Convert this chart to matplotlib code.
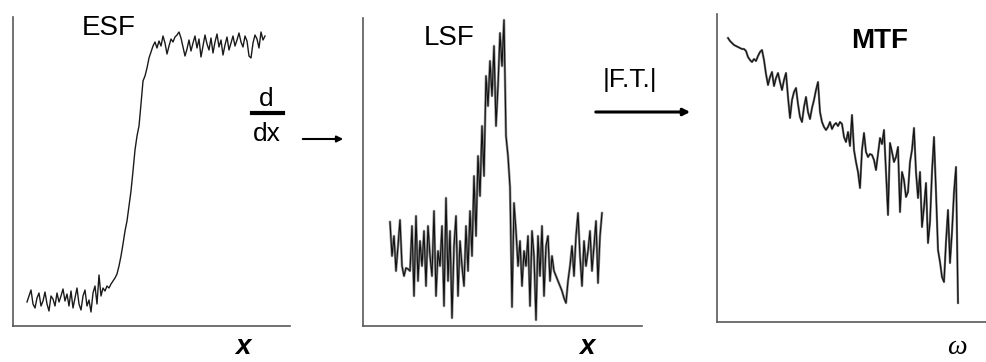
import numpy as np
import matplotlib
matplotlib.use("Agg")
import matplotlib.pyplot as plt

plt.rcParams['font.family'] = ['Liberation Sans', 'DejaVu Sans']

# ESF: edge profile, height above the axis (sample every 2 px)
esf = [24, 30, 36, 22, 18, 28, 33, 20, 25, 34, 22, 15, 30, 27, 20, 33, 24, 30, 37, 25,
       32, 20, 35, 18, 28, 38, 22, 16, 30, 36, 20, 26, 14, 33, 40, 22, 51, 30, 38, 35,
       40, 38, 42, 45, 48, 52,
       60, 70, 82, 95, 105, 120, 135, 155, 176, 190, 200, 222, 245, 250, 258, 268, 274, 280, 284,
       278, 285, 280, 290, 283, 272, 280, 287, 284, 289, 291, 294, 288, 279, 270, 277, 286, 275,
       283, 290, 278, 287, 269, 280, 291, 282, 276, 288, 273, 284, 292, 279, 286, 271, 281, 289,
       276, 283, 290, 280, 286, 293, 284, 279, 290, 285, 270, 268, 283, 291, 287, 278, 294, 286, 290]

# LSF: derivative of the edge, noisy
lsf = [104, 70, 90, 55, 80, 106, 60, 50, 58, 57, 55, 100, 30, 110, 45, 85, 60, 95, 40, 100,
       70, 50, 115, 30, 75, 60, 100, 20, 128, 45, 95, 8, 80, 110, 30, 85, 60, 40, 100, 55,
       115, 70, 150, 90, 170, 130, 200, 150, 250, 220, 265, 230, 280, 200, 240, 293, 260, 306, 190, 170,
       139, 19, 123, 95, 60, 85, 40, 75, 60, 90, 20, 95, 70, 6, 90, 50, 100, 30, 80, 90,
       45, 70, 55, 50, 45, 40, 35, 28, 23, 45, 60, 80, 50, 90, 113, 70, 40, 85, 60, 75,
       95, 55, 80, 105, 43, 90, 113]

# MTF: modulus of the Fourier transform
mtf = [284, 281, 279, 277, 276, 275, 274, 273, 273, 271, 265, 262, 260, 263, 261, 266, 270, 272, 262, 248,
       237, 245, 250, 236, 244, 249, 240, 232, 242, 249, 225, 204, 222, 230, 234, 218, 205, 200, 215, 225,
       210, 203, 214, 222, 232, 240, 210, 200, 195, 192, 195, 200, 193, 197, 199, 196, 200, 198, 185, 180,
       190, 176, 207, 172, 160, 150, 134, 172, 189, 170, 165, 168, 167, 162, 152, 168, 184, 178, 192, 150,
       107, 179, 170, 160, 165, 175, 110, 150, 142, 125, 130, 160, 172, 194, 150, 124, 150, 95, 115, 139,
       79, 100, 150, 185, 130, 72, 60, 45, 40, 80, 112, 59, 90, 130, 155, 19]

W, H = 987, 362
fig = plt.figure(figsize=(W / 100, H / 100), dpi=100)


def panel(left, bottom, right, top):
    ax = fig.add_axes([left / W, 1 - bottom / H, (right - left) / W, (bottom - top) / H])
    for s in ['top', 'right']:
        ax.spines[s].set_visible(False)
    for s in ['left', 'bottom']:
        ax.spines[s].set_color('0.35')
        ax.spines[s].set_linewidth(1.2)
    ax.set_xticks([])
    ax.set_yticks([])
    return ax


ax1 = panel(13, 326, 290, 17)
ax1.plot(np.arange(len(esf)), esf, color='#1a1a1a', lw=1.0)
ax1.set_xlim(-7, 131.5)
ax1.set_ylim(0, 309)

ax2 = panel(363, 326, 642, 18)
ax2.plot(np.arange(len(lsf)), lsf, color='0.55', lw=1.8)
ax2.plot(np.arange(len(lsf)), lsf, color='#111111', lw=0.8)
ax2.set_xlim(-13.5, 126)
ax2.set_ylim(0, 308)

ax3 = panel(717, 322, 987, 14)
ax3.plot(np.arange(len(mtf)), mtf, color='0.45', lw=1.6)
ax3.plot(np.arange(len(mtf)), mtf, color='#111111', lw=0.8)
ax3.set_xlim(-5.5, 129.5)
ax3.set_ylim(0, 308)


def txt(x, y, s, **kw):
    fig.text(x / W, 1 - y / H, s, ha='center', va='center', **kw)


txt(109, 28, 'ESF', fontsize=20)
txt(449, 38, 'LSF', fontsize=20)
txt(880, 41, 'MTF', fontsize=20, fontweight='bold')
txt(630, 80, '|F.T.|', fontsize=19)
txt(266, 99, 'd', fontsize=19)
txt(267, 134, 'dx', fontsize=19)
fig.add_artist(plt.Line2D([252 / W, 283 / W], [1 - 113 / H, 1 - 113 / H], color='black', lw=3))

fig.add_artist(matplotlib.patches.FancyArrowPatch((300 / W, 1 - 139 / H), (346 / W, 1 - 139 / H),
                                                 transform=fig.transFigure, arrowstyle='-|>',
                                                 mutation_scale=9, lw=1.5, color='black'))
fig.add_artist(matplotlib.patches.FancyArrowPatch((593 / W, 1 - 112 / H), (693 / W, 1 - 112 / H),
                                                 transform=fig.transFigure, arrowstyle='-|>',
                                                 mutation_scale=10, lw=2.2, color='black'))

txt(243, 347, 'x', fontsize=20, fontweight='bold', style='italic')
txt(587, 347, 'x', fontsize=20, fontweight='bold', style='italic')
txt(957, 347, 'ω', fontsize=20, style='italic', family=['Liberation Serif', 'DejaVu Serif'])

fig.savefig('out.png', dpi=100)
